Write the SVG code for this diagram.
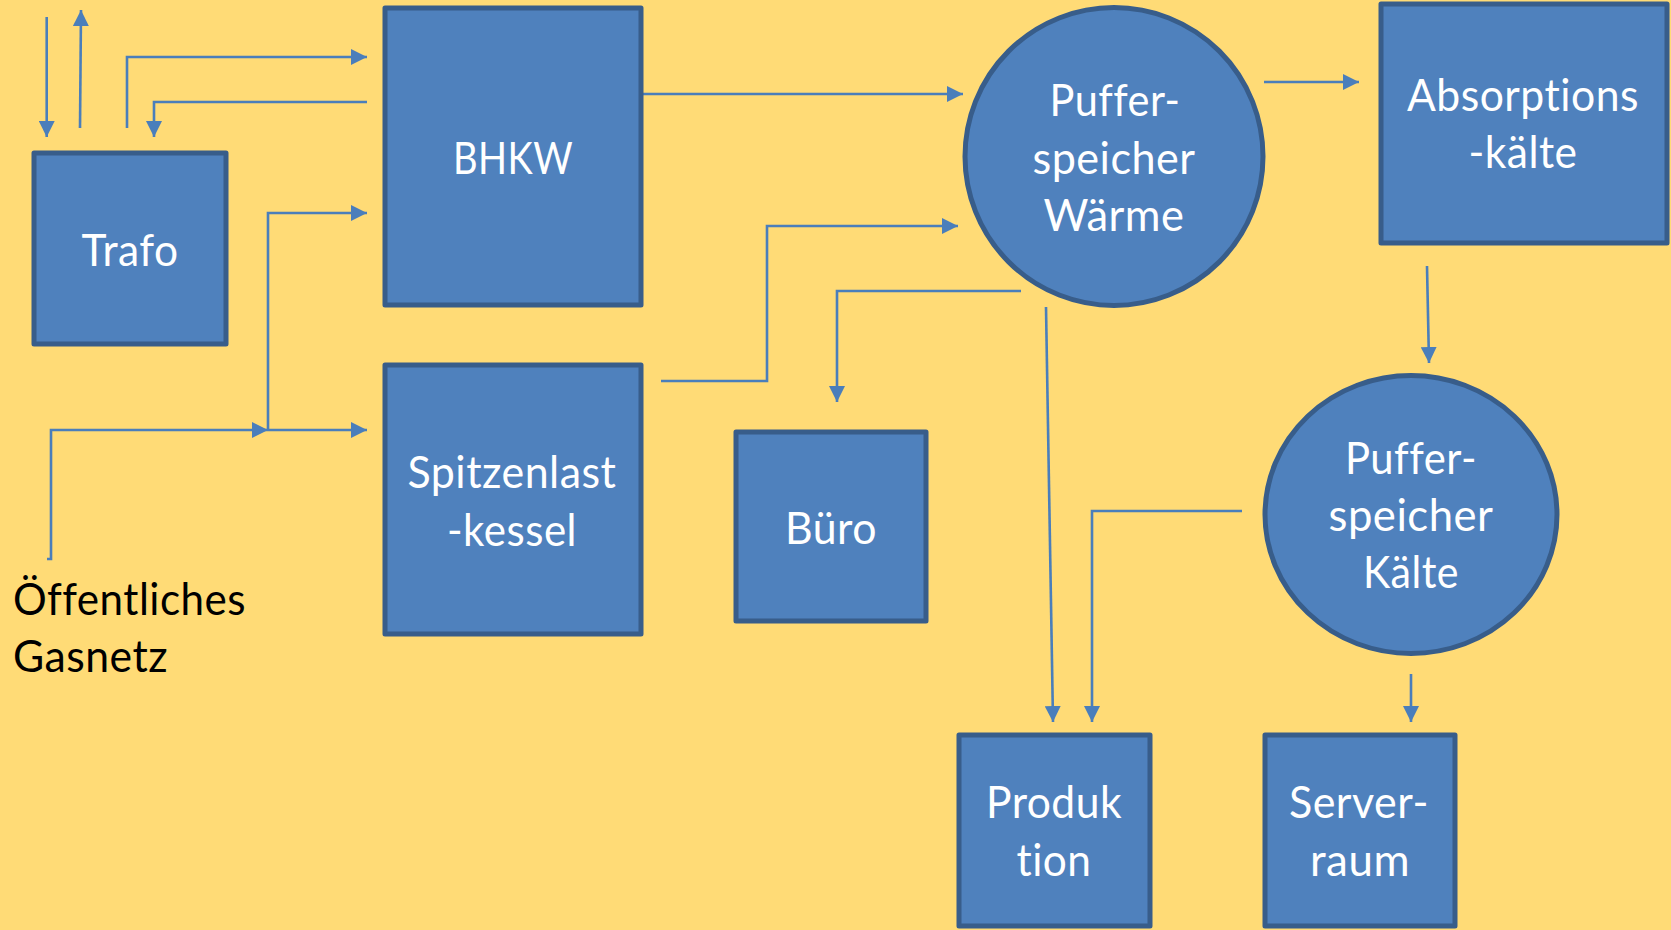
<svg xmlns="http://www.w3.org/2000/svg" width="1671" height="930" viewBox="0 0 1671 930">
<defs>
<style>
.box{fill:#4F81BD;stroke:#385D8A;stroke-width:5;stroke-linejoin:round}
.lbl{font-family:Lato,"Open Sans","Noto Sans",sans-serif;font-size:44px;fill:#FFFFFF;text-anchor:middle;font-variant-ligatures:none;letter-spacing:0.5px}
.ext{font-family:Lato,"Open Sans","Noto Sans",sans-serif;font-size:44px;fill:#000000;font-variant-ligatures:none;letter-spacing:0.5px}
.con{fill:none;stroke:#4A7EBB;stroke-width:2.6;marker-end:url(#arr)}
</style>
<marker id="arr" markerUnits="userSpaceOnUse" markerWidth="16" markerHeight="16" refX="15" refY="7.5" orient="auto" viewBox="0 0 15 15">
<path d="M0,0 L15,7.5 L0,15 z" fill="#4A7EBB"/>
</marker>
</defs>
<rect x="0" y="0" width="1671" height="930" fill="#FFDB76"/>

<g id="connectors">
<path class="con" d="M46.7,17 V137"/>
<path class="con" d="M80,128 L81,10"/>
<path class="con" d="M127,128 V57 H367"/>
<path class="con" d="M367,102 H154 V137"/>
<path class="con" d="M47,559 H51 V430 H268"/>
<path class="con" d="M268,430 H367"/>
<path class="con" d="M268,430 V213 H367"/>
<path class="con" d="M643,94 H963"/>
<path class="con" d="M661,381 H767 V226 H958"/>
<path class="con" d="M1021,291 H837 V402"/>
<path class="con" d="M1046,307 L1053,722"/>
<path class="con" d="M1264,82 H1359"/>
<path class="con" d="M1427,266 L1429,363"/>
<path class="con" d="M1242,511 H1092 V722"/>
<path class="con" d="M1411,674 V722"/>
</g>

<g id="trafo">
<rect class="box" x="34" y="153" width="192" height="191"/>
<text class="lbl" x="130" y="266" textLength="97" lengthAdjust="spacingAndGlyphs">Trafo</text>
</g>

<g id="bhkw">
<rect class="box" x="385" y="8" width="256" height="297"/>
<text class="lbl" x="513" y="174" textLength="120" lengthAdjust="spacingAndGlyphs">BHKW</text>
</g>

<g id="spitzenlastkessel">
<rect class="box" x="385" y="365" width="256" height="269"/>
<text class="lbl" x="512" y="488" textLength="209" lengthAdjust="spacingAndGlyphs">Spitzenlast</text>
<text class="lbl" x="512" y="546" textLength="130" lengthAdjust="spacingAndGlyphs">-kessel</text>
</g>

<g id="buero">
<rect class="box" x="736" y="432" width="190" height="189"/>
<text class="lbl" x="831" y="544" textLength="92" lengthAdjust="spacingAndGlyphs">Büro</text>
</g>

<g id="pufferspeicher-waerme">
<circle class="box" cx="1114" cy="156.5" r="149"/>
<text class="lbl" x="1115" y="116" textLength="131" lengthAdjust="spacingAndGlyphs">Puffer-</text>
<text class="lbl" x="1114" y="174" textLength="163" lengthAdjust="spacingAndGlyphs">speicher</text>
<text class="lbl" x="1114" y="231" textLength="141" lengthAdjust="spacingAndGlyphs">Wärme</text>
</g>

<g id="absorptionskaelte">
<rect class="box" x="1381" y="4" width="286" height="239"/>
<text class="lbl" x="1523" y="111" textLength="232" lengthAdjust="spacingAndGlyphs">Absorptions</text>
<text class="lbl" x="1523" y="168" textLength="109" lengthAdjust="spacingAndGlyphs">-kälte</text>
</g>

<g id="pufferspeicher-kaelte">
<ellipse class="box" cx="1411" cy="514.5" rx="146" ry="139"/>
<text class="lbl" x="1411" y="474" textLength="132" lengthAdjust="spacingAndGlyphs">Puffer-</text>
<text class="lbl" x="1411" y="531" textLength="165" lengthAdjust="spacingAndGlyphs">speicher</text>
<text class="lbl" x="1411" y="588" textLength="96" lengthAdjust="spacingAndGlyphs">Kälte</text>
</g>

<g id="produktion">
<rect class="box" x="959" y="735" width="191" height="191"/>
<text class="lbl" x="1054" y="818" textLength="136" lengthAdjust="spacingAndGlyphs">Produk</text>
<text class="lbl" x="1054" y="876" textLength="75" lengthAdjust="spacingAndGlyphs">tion</text>
</g>

<g id="serverraum">
<rect class="box" x="1265" y="735" width="190" height="191"/>
<text class="lbl" x="1359" y="818" textLength="140" lengthAdjust="spacingAndGlyphs">Server-</text>
<text class="lbl" x="1360" y="876" textLength="100" lengthAdjust="spacingAndGlyphs">raum</text>
</g>

<g id="gasnetz">
<text class="ext" x="13" y="615" textLength="233" lengthAdjust="spacingAndGlyphs">Öffentliches</text>
<text class="ext" x="13" y="672" textLength="155" lengthAdjust="spacingAndGlyphs">Gasnetz</text>
</g>
</svg>
